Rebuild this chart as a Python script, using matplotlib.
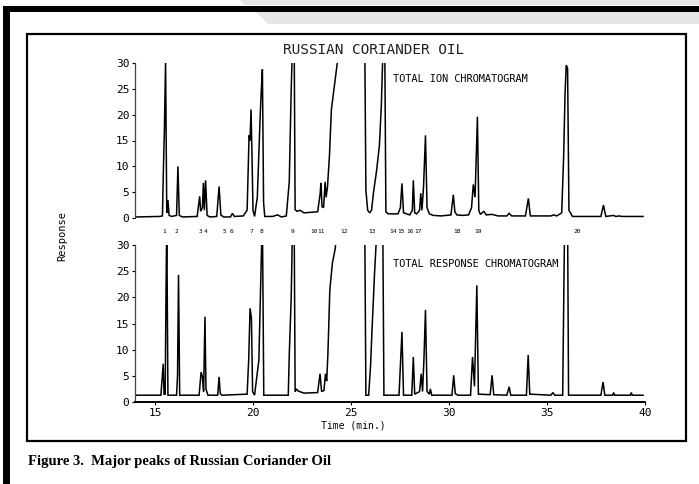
import matplotlib
matplotlib.use("Agg")
import matplotlib.pyplot as plt
from matplotlib.patches import Rectangle, Polygon

# ---------------- data ----------------
# top panel: total ion chromatogram, time (min) / response
tic_time = [14.0, 15.25, 15.38, 15.43, 15.48, 15.54, 15.6, 15.66, 15.72, 15.85, 16.1, 16.17, 16.24,
            16.4, 17.15, 17.28, 17.33, 17.42, 17.47, 17.52, 17.58, 17.66, 17.8, 18.15, 18.27, 18.36,
            18.5, 18.85, 18.95, 19.05, 19.5, 19.7, 19.8, 19.85, 19.9, 19.95, 20.0, 20.08, 20.22,
            20.36, 20.42, 20.48, 20.54, 20.6, 21.0, 21.25, 21.45, 21.7, 21.85, 21.95, 22.03, 22.1,
            22.15, 22.25, 22.4, 22.6, 23.3, 23.42, 23.47, 23.52, 23.6, 23.68, 23.73, 23.8, 23.9,
            24.0, 24.1, 24.2, 24.3, 24.35, 25.7, 25.76, 25.85, 25.95, 26.05, 26.15, 26.3, 26.45,
            26.55, 26.65, 26.72, 26.78, 26.9, 27.4, 27.52, 27.6, 27.68, 28.0, 28.13, 28.18, 28.25,
            28.35, 28.5, 28.56, 28.62, 28.7, 28.8, 28.88, 29.0, 29.2, 29.6, 30.1, 30.22, 30.3, 30.4,
            30.7, 31.0, 31.15, 31.24, 31.33, 31.45, 31.52, 31.6, 31.78, 31.9, 32.2, 32.5, 32.95,
            33.07, 33.2, 33.9, 34.05, 34.15, 35.2, 35.35, 35.5, 35.75, 35.85, 35.92, 35.98, 36.05,
            36.12, 36.3, 37.75, 37.88, 38.0, 38.4, 38.5, 38.7, 38.8, 39.9]
tic_resp = [0.2, 0.3, 0.4, 9.5, 17.0, 30.5, 1.0, 3.5, 0.5, 0.3, 0.5, 10.0, 0.5,
            0.2, 0.3, 4.2, 1.3, 2.0, 6.8, 1.5, 7.3, 0.5, 0.2, 0.3, 6.1, 0.6,
            0.2, 0.2, 0.9, 0.3, 0.4, 1.5, 16.0, 15.0, 21.0, 12.0, 1.5, 0.3, 4.0,
            19.0, 24.5, 28.8, 3.0, 0.3, 0.3, 0.6, 0.2, 0.4, 7.0, 25.0, 35.0, 35.0,
            1.6, 1.3, 1.5, 1.0, 1.2, 4.5, 6.8, 2.2, 2.0, 7.0, 4.0, 6.0, 12.0,
            21.0, 24.0, 27.0, 30.0, 35.0, 35.0, 5.4, 1.5, 1.0, 1.5, 5.0, 9.0, 14.0,
            22.0, 35.0, 35.0, 1.2, 0.8, 0.8, 2.0, 6.7, 1.0, 0.6, 1.5, 7.3, 1.0,
            0.8, 1.5, 4.8, 1.5, 6.0, 16.0, 2.0, 0.8, 0.5, 0.4, 0.6, 4.5, 1.2, 0.6,
            0.5, 0.6, 2.0, 6.5, 4.0, 19.6, 1.5, 0.7, 1.3, 0.6, 0.7, 0.4, 0.4,
            0.9, 0.4, 0.4, 3.8, 0.4, 0.4, 0.6, 0.4, 1.0, 12.0, 24.0, 29.6, 29.0,
            1.5, 0.3, 0.3, 2.5, 0.3, 0.5, 0.3, 0.4, 0.3, 0.3]

# bottom panel: total response chromatogram
trc_time = [14.0, 15.3, 15.42, 15.46, 15.52, 15.56, 15.6, 15.66, 16.1, 16.15, 16.2, 16.26, 17.25,
            17.35, 17.42, 17.48, 17.55, 17.6, 17.7, 18.2, 18.27, 18.33, 18.42, 19.7, 19.78, 19.85,
            19.92, 19.98, 20.08, 20.3, 20.37, 20.42, 20.48, 20.55, 21.8, 21.85, 21.95, 22.02, 22.1,
            22.15, 22.22, 22.3, 22.6, 23.3, 23.42, 23.5, 23.62, 23.7, 23.76, 23.82, 23.92, 24.05,
            24.2, 24.3, 25.7, 25.76, 25.9, 26.0, 26.05, 26.2, 26.35, 26.62, 26.68, 27.45, 27.6,
            27.68, 28.1, 28.18, 28.25, 28.5, 28.58, 28.65, 28.72, 28.8, 28.88, 29.0, 29.05, 29.12,
            30.15, 30.24, 30.32, 30.45, 31.1, 31.2, 31.3, 31.42, 31.5, 32.1, 32.2, 32.28, 32.95,
            33.07, 33.15, 33.95, 34.04, 34.12, 35.2, 35.3, 35.4, 35.8, 35.9, 36.05, 36.1, 37.75,
            37.86, 37.95, 38.35, 38.4, 38.45, 39.25, 39.3, 39.35, 39.9]
trc_resp = [1.3, 1.3, 7.3, 1.5, 1.5, 20.0, 35.0, 1.3, 1.3, 5.0, 24.3, 1.3, 1.3,
            5.7, 4.8, 2.0, 16.3, 2.5, 1.3, 1.3, 4.8, 1.6, 1.3, 1.5, 8.0, 17.9,
            16.0, 2.0, 1.3, 8.0, 19.0, 27.0, 35.0, 1.3, 1.3, 9.0, 20.0, 35.0, 35.0,
            2.0, 2.5, 2.1, 1.7, 1.8, 5.4, 2.0, 2.2, 5.4, 4.0, 9.0, 21.4, 26.5,
            29.4, 35.0, 35.0, 1.3, 1.3, 7.0, 11.8, 24.5, 35.0, 35.0, 1.3, 1.3, 13.4,
            1.3, 1.3, 8.6, 1.5, 2.0, 5.4, 2.0, 8.0, 17.6, 2.0, 1.5, 2.5, 1.3,
            1.3, 5.1, 1.6, 1.3, 1.3, 8.6, 3.0, 22.3, 1.5, 1.4, 5.1, 1.4, 1.3,
            2.9, 1.3, 1.3, 9.0, 1.5, 1.3, 1.8, 1.3, 1.3, 35.0, 35.0, 1.3, 1.3,
            3.8, 1.3, 1.3, 1.8, 1.3, 1.3, 1.8, 1.3, 1.3]

peak_labels = ["1", "2", "3", "4", "5", "6", "7", "8", "9", "10", "11", "12", "13",
               "14", "15", "16", "17", "18", "19", "20"]
peak_label_time = [15.46, 16.07, 17.3, 17.6, 18.52, 18.88, 19.9, 20.41, 22.04, 23.11, 23.45,
                   24.64, 26.07, 27.15, 27.57, 27.99, 28.41, 30.41, 31.48, 36.53]

y_ticks = [0, 5, 10, 15, 20, 25, 30]
x_ticks = [15, 20, 25, 30, 35, 40]

title = "RUSSIAN CORIANDER OIL"
top_note = "TOTAL ION CHROMATOGRAM"
bottom_note = "TOTAL RESPONSE CHROMATOGRAM"
ylabel = "Response"
xlabel = "Time (min.)"
caption = "Figure 3.  Major peaks of Russian Coriander Oil"

# ---------------- layout ----------------
W, H = 699, 484
fig = plt.figure(figsize=(W / 100, H / 100), dpi=100)
fig.patch.set_facecolor("white")
MONO = "DejaVu Sans Mono"

def rect(x0, y0, x1, y1):
    return [x0 / W, 1 - y1 / H, (x1 - x0) / W, (y1 - y0) / H]

# background "page" axes in pixel coordinates
bg = fig.add_axes([0, 0, 1, 1], zorder=-5)
bg.set_xlim(0, W)
bg.set_ylim(H, 0)
bg.axis("off")
bg.add_patch(Polygon([[240, 0], [W, 0], [W, 5], [244, 5]], closed=True, color="#e6e6e6", lw=0))
bg.add_patch(Polygon([[256, 12], [W, 12], [W, 24], [268, 24]], closed=True, color="#e6e6e6", lw=0))
bg.add_patch(Rectangle((3, 6), W - 3, 6, color="black", lw=0))
bg.add_patch(Rectangle((3, 6), 7, H - 6, color="black", lw=0))
bg.add_patch(Rectangle((27, 34), 659, 407, fill=False, ec="black", lw=1.6))
bg.text(28, 461, caption, family="Liberation Serif", weight="bold", fontsize=10.5,
        ha="left", va="center", color="black")
bg.text(374, 50, title, family=MONO, fontsize=10.4, ha="center", va="center", color="#222222")
bg.text(62, 236, ylabel, family=MONO, fontsize=7.5, rotation=90, ha="center", va="center")
bg.text(353, 425, xlabel, family=MONO, fontsize=7, ha="center", va="center")

XL = (13.98, 40.0)

def style(ax, bottom):
    ax.set_xlim(*XL)
    ax.set_ylim(0, 30)
    ax.set_facecolor("none")
    for s in ["top", "right"]:
        ax.spines[s].set_visible(False)
    ax.spines["left"].set_color("#444444")
    ax.spines["left"].set_linewidth(0.9)
    ax.set_yticks(y_ticks)
    ax.set_yticklabels([str(v) for v in y_ticks], family=MONO, fontsize=8)
    ax.tick_params(axis="y", length=2, width=0.8, pad=2, colors="black")
    if bottom:
        ax.spines["bottom"].set_linewidth(1.4)
        ax.set_xticks(x_ticks)
        ax.set_xticklabels([str(v) for v in x_ticks], family=MONO, fontsize=8)
        ax.tick_params(axis="x", length=2, width=0.8, pad=2)
    else:
        ax.spines["bottom"].set_visible(False)
        ax.set_xticks([])

ax1 = fig.add_axes(rect(135, 63, 645, 218))
style(ax1, False)
ax1.plot(tic_time, tic_resp, color="black", lw=1.1, solid_joinstyle="miter")
ax1.text(0.505, 0.9, top_note, transform=ax1.transAxes, family=MONO, fontsize=7.4, ha="left",
         va="center")
for lab, t in zip(peak_labels, peak_label_time):
    ax1.text(t, -0.085, lab, transform=ax1.get_xaxis_transform(), family=MONO, fontsize=4.5,
             ha="center", va="center", clip_on=False)

ax2 = fig.add_axes(rect(135, 245, 645, 402))
style(ax2, True)
ax2.plot(trc_time, trc_resp, color="black", lw=1.1, solid_joinstyle="miter")
ax2.text(0.505, 0.88, bottom_note, transform=ax2.transAxes, family=MONO, fontsize=7.4, ha="left",
         va="center")

fig.savefig("out.png", dpi=100)
